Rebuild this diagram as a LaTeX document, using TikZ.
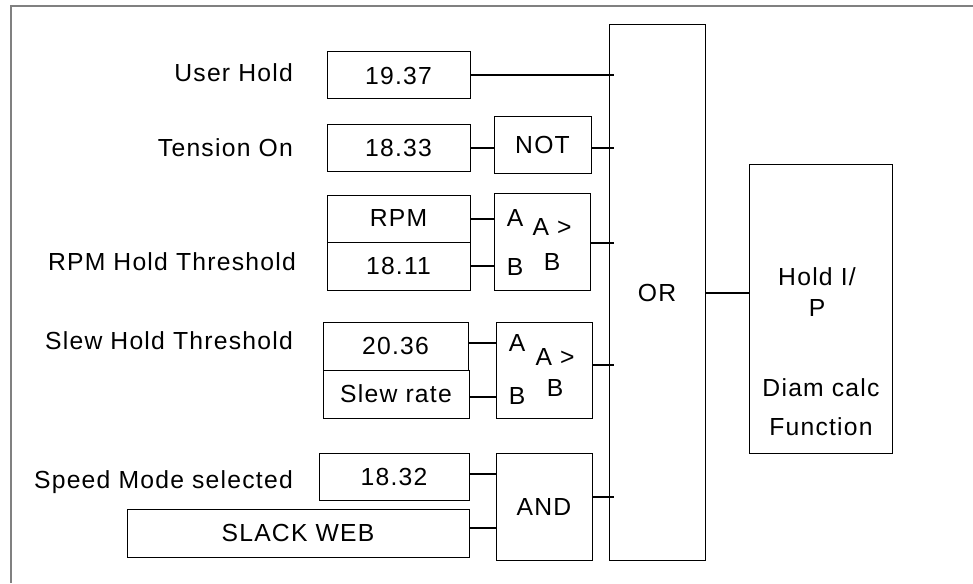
\documentclass[tikz,border=0pt]{standalone}
\usepackage{fontspec}
\setmainfont{Liberation Sans}[LetterSpace=5]
\newcommand\fs{\fontsize{24.7}{30}\selectfont}
\tikzset{
  bx/.style={draw=black,line width=1pt,inner sep=0pt,font=\fs},
  conn/.style={draw=black,line width=2pt},
  lbl/.style={inner sep=0pt,font=\fs},
  frame/.style={draw=black!50,line width=1.6pt}
}
\begin{document}
\begin{tikzpicture}[x=1pt,y=-1pt]
\useasboundingbox (0,0) rectangle (973,583);
\draw[frame] (973,6) -- (11,6) -- (11,583);

% labels
\node[lbl,anchor=base east] (lUser) at (293,82) {User Hold};
\node[lbl,anchor=base east] (lTens) at (293,156) {Tension On};
\node[lbl,anchor=base east] (lRpm) at (296,270) {RPM Hold Threshold};
\node[lbl,anchor=base east] (lSlew) at (293,349) {Slew Hold Threshold};
\node[lbl,anchor=base east] (lSpeed) at (293,488) {Speed Mode selected};

% boxes
\node[bx,minimum width=143,minimum height=47] (b1937) at (398.5,75.5) {19.37};
\node[bx,minimum width=143,minimum height=47] (b1833) at (398.5,147.5) {18.33};
\node[bx,minimum width=97,minimum height=57] (not) at (542.5,144.5) {NOT};
\node[bx,minimum width=143,minimum height=47] (rpm) at (398.5,218.5) {RPM};
\node[bx,minimum width=143,minimum height=48] (b1811) at (398.5,266) {18.11};
\node[bx,minimum width=96,minimum height=97] (cmp1) at (542,241.5) {};
\node[bx,minimum width=145,minimum height=48] (b2036) at (395.5,346) {20.36};
\node[bx,minimum width=146,minimum height=48] (slew) at (396,394) {Slew rate};
\node[bx,minimum width=96,minimum height=96] (cmp2) at (544,370) {};
\node[bx,minimum width=150,minimum height=47] (b1832) at (394,476.5) {18.32};
\node[bx,minimum width=342,minimum height=48] (slack) at (298,533) {SLACK WEB};
\node[bx,minimum width=96,minimum height=107] (and) at (544,506.5) {AND};
\node[bx,minimum width=96,minimum height=535] (or) at (657,292.5) {};
\node[lbl] (ortxt) at (657,293) {OR};
\node[bx,minimum width=143,minimum height=289] (hold) at (820.5,308.5) {};
\node[lbl,align=center,font=\fontsize{24.7}{31}\selectfont] (holdt1) at (817,292.5) {Hold I/\\P};
\node[lbl,align=center,font=\fontsize{24.7}{39}\selectfont] (holdt2) at (821,407.5) {Diam calc\\Function};

% comparator labels
\node[lbl] (c1a) at (515,218) {A};
\node[lbl] (c1b) at (515,267) {B};
\node[lbl,align=center,font=\fontsize{24.7}{35}\selectfont] (c1t) at (552,244.5) {A >\\B};
\node[lbl] (c2a) at (517,343) {A};
\node[lbl] (c2b) at (517,396) {B};
\node[lbl,align=center,font=\fontsize{24.7}{31}\selectfont] (c2t) at (555,372.5) {A >\\B};

% connectors
\draw[conn] (b1937.east) -- (b1937.east -| or.west) -- ++(5,0);
\draw[conn] (b1833.east) -- (b1833.east -| not.west);
\draw[conn] (not.east |- b1833.east) -- (b1833.east -| or.west) -- ++(5,0);
\draw[conn] (rpm.east) -- (rpm.east -| cmp1.west);
\draw[conn] (b1811.east) -- (b1811.east -| cmp1.west);
\draw[conn] ([yshift=-1pt]cmp1.east) -- ([yshift=-1pt]cmp1.east -| or.west) -- ++(5,0);
\draw[conn] ([yshift=3pt]b2036.east) -- ([yshift=3pt]b2036.east -| cmp2.west);
\draw[conn] ([yshift=-3pt]slew.east) -- ([yshift=-3pt]slew.east -| cmp2.west);
\draw[conn] ([yshift=5pt]cmp2.east) -- ([yshift=5pt]cmp2.east -| or.west) -- ++(5,0);
\draw[conn] ([yshift=2.5pt]b1832.east) -- ([yshift=2.5pt]b1832.east -| and.west);
\draw[conn] ([yshift=5pt]slack.east) -- ([yshift=5pt]slack.east -| and.west);
\draw[conn] ([yshift=10pt]and.east) -- ([yshift=10pt]and.east -| or.west) -- ++(5,0);
\draw[conn] (or.east |- 0,293) -- (hold.west |- 0,293);
\end{tikzpicture}
\end{document}
